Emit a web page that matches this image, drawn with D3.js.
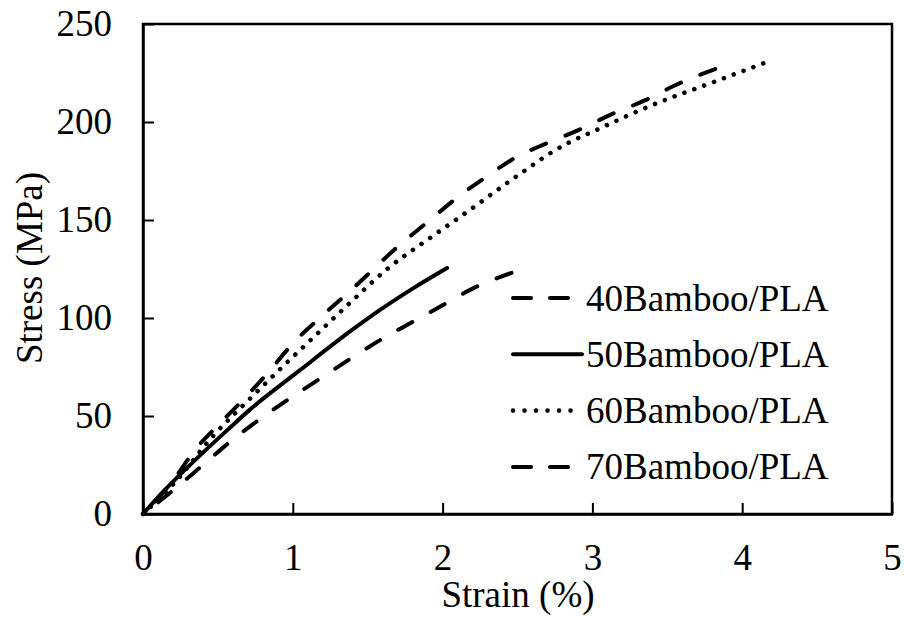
<!DOCTYPE html>
<html>
<head>
<meta charset="utf-8">
<script src="https://cdn.jsdelivr.net/npm/d3@7"></script>
<style>
  body { margin: 0; background: #fff; }
  text { font-family: "Liberation Serif", "Times New Roman", serif; fill: #000; }
</style>
</head>
<body>
<div id="chart"></div>
<script>
// Data (strain %, stress MPa)
const s40 = [[0,0],[0.2,12],[0.43,27],[0.6,38],[0.8,49.5],[1.0,60],[1.2,70],[1.4,80],[1.6,89.5],[1.8,98],[2.0,106.5],[2.2,115],[2.46,123]];
const s50 = [[0,0],[0.13,11],[0.3,24],[0.58,44],[0.71,53],[1.05,73.5],[1.38,93],[1.58,104],[1.8,115],[2.03,125.5]];
const s60 = [[0,0],[0.2,15],[0.47,40],[0.73,60],[0.93,75],[1.15,91],[1.4,109],[1.63,125],[1.9,140],[2.18,155],[2.47,171],[2.83,189],[3.0,195],[3.38,208],[3.83,221],[4.18,231]];
const s70 = [[0,0],[0.2,17],[0.35,33],[0.51,46],[0.69,60],[0.85,73.5],[1.0,87],[1.18,100],[1.4,115],[1.71,137],[1.9,149],[2.09,161],[2.29,172],[2.49,182],[2.69,189],[2.91,196],[3.13,204],[3.35,211],[3.56,219],[3.82,227]];
const seriesNames = ["40Bamboo/PLA", "50Bamboo/PLA", "60Bamboo/PLA", "70Bamboo/PLA"];
const xTicks = [0, 1, 2, 3, 4, 5];
const yTicks = [0, 50, 100, 150, 200, 250];

const W = 904, H = 618;
const margin = {top: 24, right: 12, bottom: 104, left: 143};
const width = W - margin.left - margin.right,
      height = H - margin.top - margin.bottom;
const fontSize = 37;

const svg = d3.select("#chart").append("svg")
    .attr("width", W)
    .attr("height", H);
const g = svg.append("g")
    .attr("transform", `translate(${margin.left},${margin.top})`);

const x = d3.scaleLinear().domain([0, 5]).range([0, width]);
const y = d3.scaleLinear().domain([0, 250]).range([height, 0]);

// frame
g.append("rect")
    .attr("x", 0).attr("y", 0)
    .attr("width", width).attr("height", height)
    .attr("fill", "none").attr("stroke", "#000").attr("stroke-width", 2.5);

// axes with inward ticks
const xAxis = g.append("g")
    .attr("transform", `translate(0,${height})`)
    .call(d3.axisBottom(x).tickValues(xTicks).tickFormat(d3.format("d"))
        .tickSizeInner(-11).tickSizeOuter(0).tickPadding(30));
const yAxis = g.append("g")
    .call(d3.axisLeft(y).tickValues(yTicks).tickFormat(d3.format("d"))
        .tickSizeInner(-11).tickSizeOuter(0).tickPadding(31));
[xAxis, yAxis].forEach(a => {
    a.attr("font-size", fontSize).attr("font-family", null);
    a.select(".domain").attr("stroke", "#000").attr("stroke-width", 2.5);
    a.selectAll(".tick line").attr("stroke", "#000").attr("stroke-width", 2);
});

// axis titles
svg.append("text")
    .attr("x", 518).attr("y", 607)
    .attr("text-anchor", "middle")
    .attr("font-size", fontSize)
    .text("Strain (%)");
svg.append("text")
    .attr("transform", "translate(42,268) rotate(-90)")
    .attr("text-anchor", "middle")
    .attr("font-size", fontSize)
    .text("Stress (MPa)");

// line styles
const dashes = ["16 21", null, "0.01 10.5", "16 21"];
const allSeries = [s40, s50, s60, s70];

const line = d3.line()
    .x(d => x(d[0]))
    .y(d => y(d[1]))
    .curve(d3.curveMonotoneX);

allSeries.forEach((s, i) => {
    const path = g.append("path")
        .datum(s)
        .attr("d", line)
        .attr("fill", "none")
        .attr("stroke", "#000")
        .attr("stroke-width", i === 2 ? 4.6 : 4)
        .attr("stroke-linecap", "round")
        .attr("stroke-dasharray", dashes[i]);
    // make dashed curves finish on a dash, like the reference
    if (i === 0 || i === 3) {
        const L = path.node().getTotalLength();
        const off = ((16 - (L % 37)) % 37 + 37) % 37;
        path.attr("stroke-dashoffset", off);
    }
});

// legend
const legend = svg.append("g");
seriesNames.forEach((name, i) => {
    const ly = 298 + i * 56.3;
    legend.append("line")
        .attr("x1", 513).attr("x2", 582)
        .attr("y1", ly).attr("y2", ly)
        .attr("stroke", "#000")
        .attr("stroke-width", i === 2 ? 4.6 : 4)
        .attr("stroke-linecap", "round")
        .attr("stroke-dasharray", i === 0 || i === 3 ? "18 19" : (i === 2 ? "0.01 11.5" : null));
    legend.append("text")
        .attr("x", 586).attr("y", ly)
        .attr("dy", "0.34em")
        .attr("font-size", fontSize)
        .text(name);
});
</script>
</body>
</html>
